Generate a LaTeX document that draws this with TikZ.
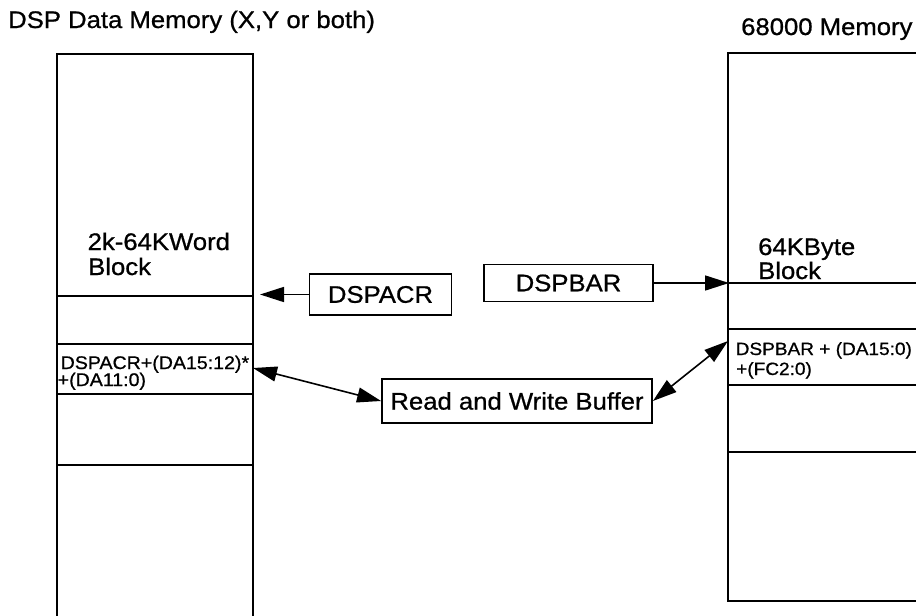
\documentclass[tikz,border=0pt]{standalone}
\usepackage{fontspec}
\setmainfont{Liberation Sans}[FakeStretch=1.07,FakeBold=0.8]
\usetikzlibrary{arrows.meta}
\begin{document}
\begin{tikzpicture}[x=1pt,y=-1pt,
  big/.style={font=\fontsize{24}{28}\selectfont, inner sep=0pt, anchor=base west},
  small/.style={font=\fontsize{17.8}{20}\selectfont, inner sep=0pt, anchor=base west},
  mem/.style={line width=2pt},
  regbox/.style={draw, line width=1.8pt, font=\fontsize{24}{28}\selectfont, inner sep=0pt},
  conn/.style={line width=1.6pt},
  >={Triangle[length=24pt,width=15pt]}
]
\useasboundingbox (0,0) rectangle (916,616);
% titles
\node[big] (t1) at (8,28) {DSP Data Memory (X,Y or both)};
\node[big] (t2) at (741,35) {68000 Memory};
% left memory column
\draw[mem] (56.5,616) -- (56.5,54) -- (252.5,54) -- (252.5,616);
\draw[mem] (56.5,296) -- (252.5,296);
\draw[mem] (56.5,344) -- (252.5,344);
\draw[mem] (56.5,394) -- (252.5,394);
\draw[mem] (56.5,465) -- (252.5,465);
% right memory column
\draw[mem] (916,53) -- (728,53) -- (728,601) -- (916,601);
\draw[mem] (728,283) -- (916,283);
\draw[mem] (728,329) -- (916,329);
\draw[mem] (728,385) -- (916,385);
\draw[mem] (728,452) -- (916,452);
% labels inside columns
\node[big] (l1a) at (87.5,250) {2k-64KWord};
\node[big] (l1b) at (88,275) {Block};
\node[small, font=\fontsize{18.3}{20}\selectfont] (l2a) at (60.5,369) {DSPACR+(DA15:12)*};
\node[small, font=\fontsize{18.3}{20}\selectfont] (l2b) at (57.5,386) {+(DA11:0)};
\node[big] (r1a) at (758,255) {64KByte};
\node[big] (r1b) at (758,279) {Block};
\node[small] (r2a) at (735.5,355) {DSPBAR + (DA15:0)};
\node[small] (r2b) at (736,375) {+(FC2:0)};
% register boxes
\node[regbox, minimum width=142pt, minimum height=41pt] (acr) at (380.5,294.5) {DSPACR};
\node[regbox, minimum width=169pt, minimum height=37pt] (bar) at (568.5,283) {DSPBAR};
\node[regbox, minimum width=270pt, minimum height=44pt] (buf) at (517,401) {Read and Write Buffer};
% connector ends on the columns
\coordinate (acrtip) at (260,294.5);
\coordinate (bartip) at (729,283);
\coordinate (bufl) at (253,368);
\coordinate (bufr) at (728,341);
% connectors
\draw[conn,->] (acr.west) -- (acrtip);
\draw[conn,->] (bar.east) -- (bartip);
\draw[conn,<->] (bufl) -- (buf.west);
\draw[conn,<->] (buf.east) -- (bufr);
\end{tikzpicture}
\end{document}
